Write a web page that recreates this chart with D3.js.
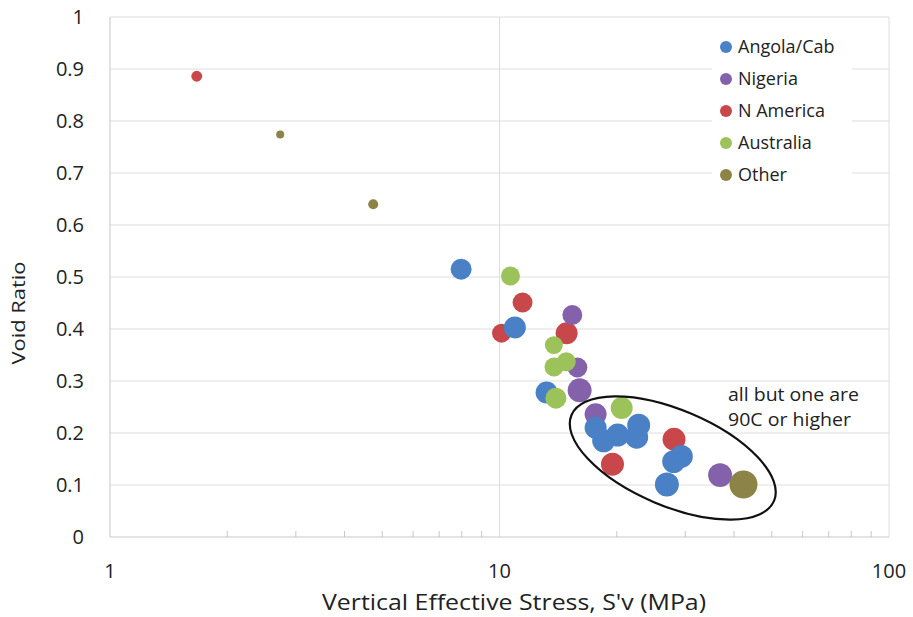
<!DOCTYPE html>
<html>
<head>
<meta charset="utf-8">
<script src="https://cdn.jsdelivr.net/npm/d3@7"></script>
<style>
  body { margin: 0; background: #fff; }
  svg { display: block; font-family: "Open Sans", sans-serif; }
</style>
</head>
<body>
<div id="chart"></div>
<script>
// series, in legend order
let series = ["Angola/Cab", "Nigeria", "N America", "Australia", "Other"];
let colors = ["#4a80c6", "#8462ab", "#c8474a", "#9cc25a", "#8c8447"];
// order the bubbles are painted in (later ones sit on top)
let drawOrder = ["N America", "Nigeria", "Angola/Cab", "Australia", "Other"];

// stress S'v (MPa), void ratio, bubble value
let angolaStress = [7.97, 10.95, 13.21, 17.65, 18.51, 20.11, 22.77, 22.5, 28.0, 29.3, 26.9];
let angolaVoid   = [0.515, 0.403, 0.278, 0.21, 0.185, 0.196, 0.215, 0.192, 0.145, 0.155, 0.101];
let angolaBubble = [82, 90, 90, 90, 98, 98, 98, 98, 98, 98, 107];

let nigeriaStress = [15.38, 15.85, 16.06, 17.65, 36.84];
let nigeriaVoid   = [0.427, 0.326, 0.282, 0.236, 0.119];
let nigeriaBubble = [74, 74, 107, 90, 107];

let namericaStress = [1.67, 11.46, 10.12, 14.87, 19.5, 28.06];
let namericaVoid   = [0.886, 0.451, 0.392, 0.392, 0.14, 0.188];
let namericaBubble = [22, 74, 67, 90, 98, 98];

let australiaStress = [10.67, 13.79, 13.8, 14.84, 13.96, 20.59];
let australiaVoid   = [0.502, 0.369, 0.327, 0.337, 0.267, 0.248];
let australiaBubble = [67, 60, 67, 67, 82, 90];

let otherStress = [2.735, 4.74, 42.3];
let otherVoid   = [0.774, 0.64, 0.101];
let otherBubble = [12, 19, 146];

let xTicks = [1, 10, 100];
let yTicks = [0, 0.1, 0.2, 0.3, 0.4, 0.5, 0.6, 0.7, 0.8, 0.9, 1];

let xTitle = "Vertical Effective Stress, S'v (MPa)";
let yTitle = "Void Ratio";
let note = ["all but one are", "90C or higher"];

let chart_width = 913;
let chart_height = 617;

function rows(name, xs, ys, bs) {
  return xs.map(function (v, i) {
    return { series: name, stress: v, e: ys[i], b: bs[i] };
  });
}

let points = [].concat(
  rows("Angola/Cab", angolaStress, angolaVoid, angolaBubble),
  rows("Nigeria", nigeriaStress, nigeriaVoid, nigeriaBubble),
  rows("N America", namericaStress, namericaVoid, namericaBubble),
  rows("Australia", australiaStress, australiaVoid, australiaBubble),
  rows("Other", otherStress, otherVoid, otherBubble)
);
// paint order
points.sort(function (a, b) {
  return drawOrder.indexOf(a.series) - drawOrder.indexOf(b.series);
});

let color = d3.scaleOrdinal().domain(series).range(colors);
let x = d3.scaleLog().domain([1, 100]).range([110, 889]);
let y = d3.scaleLinear().domain([0, 1]).range([537, 17]);
let r = d3.scaleSqrt().domain([0, 146]).range([0, 14]);

let svg = d3
  .select("#chart")
  .append("svg")
  .attr("width", chart_width)
  .attr("height", chart_height);

// horizontal grid
svg
  .append("g")
  .selectAll("line")
  .data(yTicks.filter(function (d) { return d > 0; }))
  .enter()
  .append("line")
  .attr("x1", x(1))
  .attr("x2", x(100))
  .attr("y1", function (d) { return y(d); })
  .attr("y2", function (d) { return y(d); })
  .attr("stroke", "#dedede")
  .attr("stroke-width", 1);

// vertical grid (decades)
svg
  .append("g")
  .selectAll("line")
  .data(xTicks.filter(function (d) { return d > 1; }))
  .enter()
  .append("line")
  .attr("x1", function (d) { return x(d); })
  .attr("x2", function (d) { return x(d); })
  .attr("y1", y(1))
  .attr("y2", y(0))
  .attr("stroke", "#dedede")
  .attr("stroke-width", 1);

// axis lines
svg.append("line")
  .attr("x1", x(1)).attr("x2", x(1))
  .attr("y1", y(1)).attr("y2", y(0))
  .attr("stroke", "#c8c8c8");
svg.append("line")
  .attr("x1", x(1)).attr("x2", x(100))
  .attr("y1", y(0)).attr("y2", y(0))
  .attr("stroke", "#c8c8c8");

// minor ticks on the log axis, pointing inward
let minor = x.ticks().filter(function (d) { return xTicks.indexOf(d) < 0; });
svg
  .append("g")
  .selectAll("line")
  .data(minor)
  .enter()
  .append("line")
  .attr("x1", function (d) { return x(d); })
  .attr("x2", function (d) { return x(d); })
  .attr("y1", y(0))
  .attr("y2", y(0) - 6)
  .attr("stroke", "#c8c8c8");

// tick labels
svg
  .append("g")
  .selectAll("text")
  .data(yTicks)
  .enter()
  .append("text")
  .attr("x", 84)
  .attr("y", function (d) { return y(d); })
  .attr("dy", "0.35em")
  .attr("text-anchor", "end")
  .attr("font-size", 20)
  .attr("fill", "#222")
  .text(function (d) { return d; });

svg
  .append("g")
  .selectAll("text")
  .data(xTicks)
  .enter()
  .append("text")
  .attr("x", function (d) { return x(d); })
  .attr("y", 571)
  .attr("dy", "0.35em")
  .attr("text-anchor", "middle")
  .attr("font-size", 20)
  .attr("fill", "#222")
  .text(function (d) { return d; });

// titles (stretched a little, the original font is wider)
svg.append("text")
  .attr("x", 514)
  .attr("y", 610)
  .attr("text-anchor", "middle")
  .attr("font-size", 22)
  .attr("textLength", 384)
  .attr("lengthAdjust", "spacingAndGlyphs")
  .attr("fill", "#222")
  .text(xTitle);

svg.append("text")
  .attr("transform", "translate(25,313) rotate(-90)")
  .attr("text-anchor", "middle")
  .attr("font-size", 19)
  .attr("textLength", 103)
  .attr("lengthAdjust", "spacingAndGlyphs")
  .attr("fill", "#222")
  .text(yTitle);

// legend box (covers the grid)
let legend = svg.append("g");
legend.append("rect")
  .attr("x", 712)
  .attr("y", 28)
  .attr("width", 140)
  .attr("height", 164)
  .attr("fill", "#fff");

let items = legend
  .selectAll("g")
  .data(series)
  .enter()
  .append("g")
  .attr("transform", function (d, i) { return "translate(726," + (47 + i * 32) + ")"; });
items.append("circle")
  .attr("r", 6)
  .attr("fill", function (d) { return color(d); });
items.append("text")
  .attr("x", 12)
  .attr("dy", "0.35em")
  .attr("font-size", 18)
  .attr("fill", "#222")
  .text(function (d) { return d; });

// bubbles
svg
  .append("g")
  .selectAll("circle")
  .data(points)
  .enter()
  .append("circle")
  .attr("cx", function (d) { return x(d.stress); })
  .attr("cy", function (d) { return y(d.e); })
  .attr("r", function (d) { return r(d.b); })
  .attr("fill", function (d) { return color(d.series); });

// annotation ellipse round the hot samples
let ellipseCenter = [x(27.85), y(0.152)];
svg.append("ellipse")
  .attr("transform", "translate(" + ellipseCenter[0] + "," + ellipseCenter[1] + ") rotate(23)")
  .attr("rx", 110)
  .attr("ry", 48)
  .attr("fill", "none")
  .attr("stroke", "#111")
  .attr("stroke-width", 2.2);

let noteWidths = [131, 123];
svg
  .append("g")
  .selectAll("text")
  .data(note)
  .enter()
  .append("text")
  .attr("x", 728)
  .attr("y", function (d, i) { return 401 + i * 25; })
  .attr("font-size", 17.5)
  .attr("textLength", function (d, i) { return noteWidths[i]; })
  .attr("lengthAdjust", "spacingAndGlyphs")
  .attr("fill", "#222")
  .text(function (d) { return d; });
</script>
</body>
</html>
